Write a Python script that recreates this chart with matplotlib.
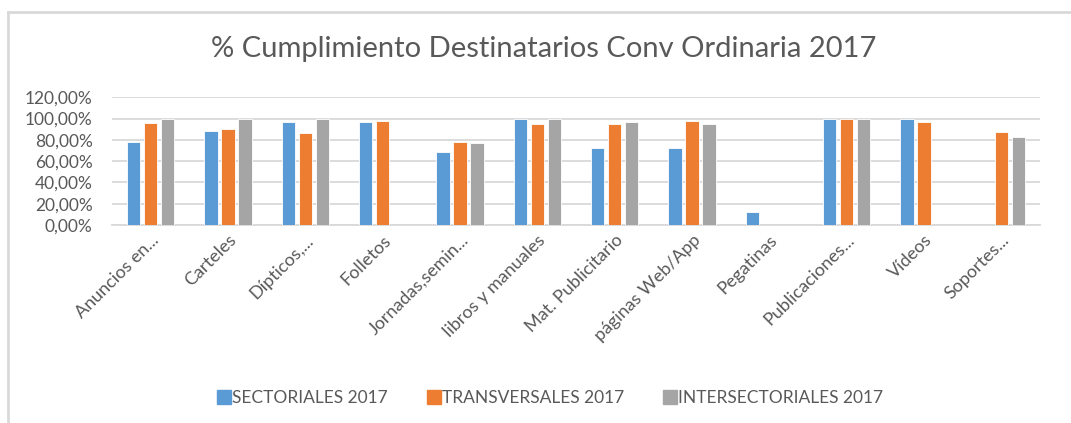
import numpy as np
import matplotlib.pyplot as plt
from matplotlib.lines import Line2D
from matplotlib.ticker import FuncFormatter

plt.rcParams['font.family'] = ['Lato', 'DejaVu Sans']

categorias = ["Anuncios en...", "Carteles", "Dípticos,...", "Folletos", "Jornadas,semin...",
              "libros y manuales", "Mat. Publicitario", "páginas Web/App", "Pegatinas",
              "Publicaciones...", "Vídeos", "Soportes..."]
sectoriales = [78.4, 88.4, 96.9, 96.9, 68.7, 100, 72.7, 72.7, 12.2, 100, 100, np.nan]
transversales = [95.9, 90.6, 86.5, 98.1, 78.1, 95.3, 95.0, 97.8, np.nan, 100, 96.9, 87.5]
intersectoriales = [100, 100, 100, np.nan, 77.1, 100, 96.9, 95.0, np.nan, 100, np.nan, 83.1]
series = ["SECTORIALES 2017", "TRANSVERSALES 2017", "INTERSECTORIALES 2017"]
colores = ["#5B9BD5", "#ED7D31", "#A5A5A5"]

texto = "#595959"
rejilla = "#D9D9D9"

fig = plt.figure(figsize=(10.71, 4.23), dpi=100)
ax = fig.add_axes([112 / 1071, 1 - 225 / 423, (1040 - 112) / 1071, (225 - 97.3) / 423])

x = np.arange(len(categorias))
ancho = 0.172
paso = 0.22
for i, (vals, col) in enumerate(zip([sectoriales, transversales, intersectoriales], colores)):
    ax.bar(x + (i - 1) * paso, vals, ancho, color=col, edgecolor="white", linewidth=0.6, zorder=3)

ax.set_xlim(-0.5, len(categorias) - 0.5)
ax.set_ylim(0, 120)
ax.set_yticks(np.arange(0, 121, 20))
ax.yaxis.set_major_formatter(FuncFormatter(lambda v, p: f"{v:.2f}%".replace(".", ",")))
ax.grid(axis="y", color=rejilla, linewidth=1.3, zorder=0)
for s in ["top", "right", "left"]:
    ax.spines[s].set_visible(False)
ax.spines["bottom"].set_color(rejilla)
ax.spines["bottom"].set_linewidth(1.3)
ax.tick_params(axis="both", length=0, colors=texto)
ax.tick_params(axis="y", pad=14, labelsize=12.5)
ax.set_xticks(x)
ax.set_xticklabels(categorias, rotation=45, ha="right", rotation_mode="anchor", fontsize=13)
ax.tick_params(axis="x", pad=5)

fig.text(0.508, 1 - 49 / 423, "% Cumplimiento Destinatarios Conv Ordinaria 2017",
         ha="center", va="center", fontsize=21, color=texto)

handles = [Line2D([], [], marker="s", linestyle="", markersize=9.4, color=c) for c in colores]
fig.legend(handles, series, loc="center", bbox_to_anchor=(0.514, 1 - 398 / 423), ncol=3,
           frameon=False, labelcolor=texto, fontsize=12.5, handletextpad=0.12,
           columnspacing=2.3, handlelength=0.7)

# borde del gráfico (solo arriba e izquierda visibles en el recorte)
fig.add_artist(Line2D([8 / 1071, 8 / 1071], [0, 1 - 12 / 423], transform=fig.transFigure,
                      color=rejilla, linewidth=2))
fig.add_artist(Line2D([8 / 1071, 1], [1 - 12 / 423, 1 - 12 / 423], transform=fig.transFigure,
                      color=rejilla, linewidth=2))

fig.savefig("out.png", dpi=100)
